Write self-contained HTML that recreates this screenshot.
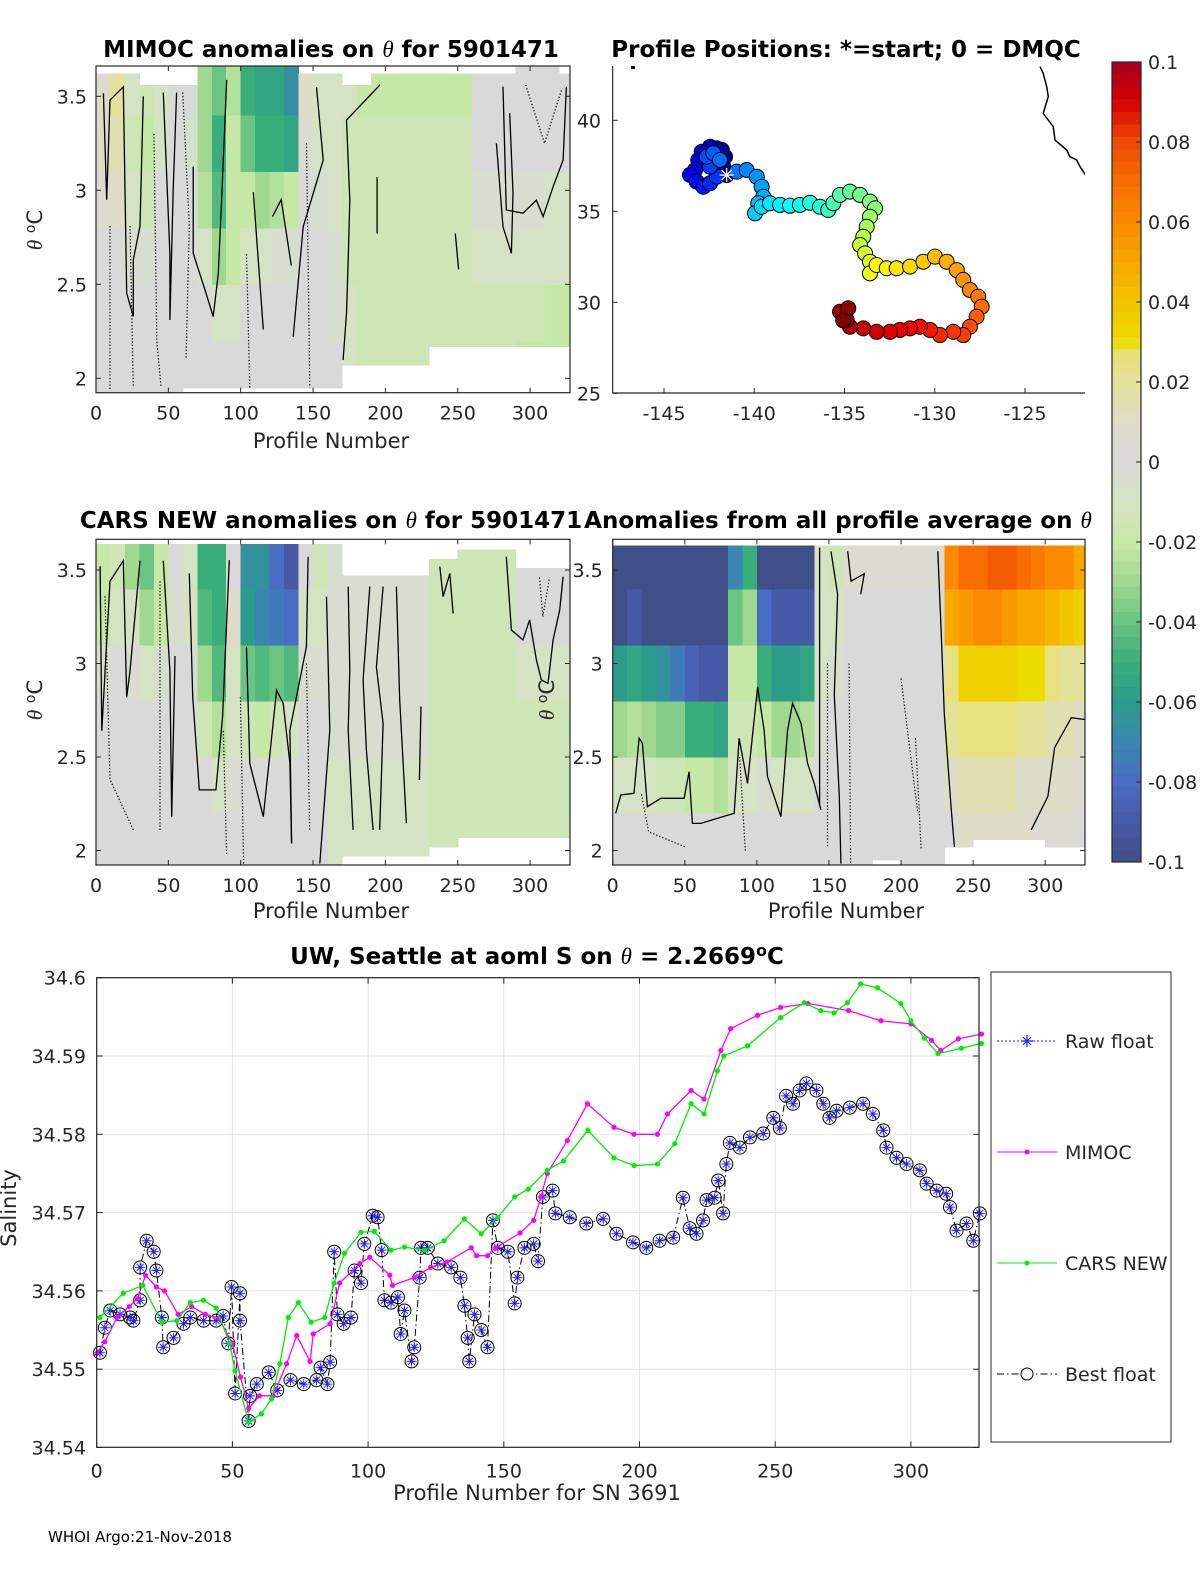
<!DOCTYPE html>
<html><head><meta charset="utf-8"><title>Float 5901471 anomalies and salinity</title>
<style>
html,body{margin:0;padding:0;background:#fff;}
svg{display:block;font-family:"DejaVu Sans","Liberation Sans",sans-serif;}
.tk{font-size:19px;fill:#262626;}
.ttl{font-size:23px;font-weight:bold;fill:#000;}
.lab{font-size:21px;fill:#262626;}
</style></head>
<body>
<svg id="fig" width="1200" height="1575" viewBox="0 0 1200 1575" xmlns="http://www.w3.org/2000/svg">
<rect width="1200" height="1575" fill="#fff"/>
<g id="p1"></g>
<g id="p2"></g>
<g id="p3"></g>
<g id="p4"></g>
<g id="cb"></g>
<g id="p5"></g>

<text class="ttl" x="331" y="57" text-anchor="middle">MIMOC anomalies on <tspan font-family="Liberation Serif,serif" font-style="italic" font-weight="normal">θ</tspan>  for 5901471</text>
<text class="ttl" x="846" y="57" text-anchor="middle">Profile Positions: *=start; 0 = DMQC</text>
<text class="ttl" x="331" y="528" text-anchor="middle">CARS NEW anomalies on <tspan font-family="Liberation Serif,serif" font-style="italic" font-weight="normal">θ</tspan> for 5901471</text>
<text class="ttl" x="838" y="528" text-anchor="middle">Anomalies from all profile average on <tspan font-family="Liberation Serif,serif" font-style="italic" font-weight="normal">θ</tspan></text>
<text class="ttl" x="537" y="964" text-anchor="middle">UW, Seattle at aoml S on <tspan font-family="Liberation Serif,serif" font-style="italic" font-weight="normal">θ</tspan> = 2.2669<tspan dy="-8" font-size="16">o</tspan><tspan dy="8">C</tspan></text>

<text class="lab" x="331" y="448" text-anchor="middle">Profile Number</text>
<text class="lab" x="331" y="918" text-anchor="middle">Profile Number</text>
<text class="lab" x="846" y="918" text-anchor="middle">Profile Number</text>
<text class="lab" x="537" y="1500" text-anchor="middle">Profile Number for SN 3691</text>
<text class="lab" transform="translate(42,230) rotate(-90)" text-anchor="middle"><tspan font-family="Liberation Serif,serif" font-style="italic">θ</tspan> <tspan dy="-7" font-size="14">o</tspan><tspan dy="7">C</tspan></text>
<text class="lab" transform="translate(42,700) rotate(-90)" text-anchor="middle"><tspan font-family="Liberation Serif,serif" font-style="italic">θ</tspan> <tspan dy="-7" font-size="14">o</tspan><tspan dy="7">C</tspan></text>
<text class="lab" transform="translate(554,700) rotate(-90)" text-anchor="middle"><tspan font-family="Liberation Serif,serif" font-style="italic">θ</tspan> <tspan dy="-7" font-size="14">o</tspan><tspan dy="7">C</tspan></text>
<text class="lab" transform="translate(16,1208) rotate(-90)" text-anchor="middle">Salinity</text>
<text x="48" y="1542" font-size="15" fill="#000">WHOI Argo:21-Nov-2018</text>
</svg>

<script>
// ---------- DATA ----------
const binStarts = [0,10,20,30,40,50,60,70,80,90,100,110,120,130,140,150,160,170,180,190,200,210,220,230,240,250,260,270,280,290,300,310,320];
const thetaEdges = [1.92,2.2,2.5,2.8,3.1,3.4,3.67];
const mimocVals = [
[0,0,0,0.005,0.01,0.01],[0,0,0,0.01,0.015,0.02],[0,0,-0.005,-0.01,-0.015,-0.01],[0,0,-0.005,-0.015,-0.02,-0.015],
[0,0,0,0,-0.01,-0.01],[0,0,0,0,0,0],[0,0,0,0,-0.005,0],[0,0,-0.01,-0.025,-0.03,-0.03],
[0,-0.01,-0.03,-0.045,-0.05,-0.04],[0,-0.01,-0.02,-0.02,-0.02,-0.025],[0,0,-0.01,-0.02,-0.04,-0.05],[0,0,-0.01,-0.03,-0.05,-0.055],
[0,0,-0.005,-0.025,-0.05,-0.055],[0,0,-0.005,-0.02,-0.055,-0.065],[0,0,0,0,0.005,0.01],[0,0,0,-0.005,-0.01,-0.01],
[0,-0.005,-0.005,-0.01,-0.01,-0.01],[-0.01,-0.01,-0.015,-0.015,-0.015,-0.01],
[-0.015,-0.015,-0.015,-0.015,-0.015,-0.02],[-0.015,-0.015,-0.015,-0.015,-0.015,-0.02],[-0.015,-0.015,-0.015,-0.015,-0.015,-0.02],
[-0.015,-0.015,-0.015,-0.015,-0.015,-0.02],[-0.015,-0.015,-0.015,-0.015,-0.015,-0.02],[-0.015,-0.015,-0.015,-0.015,-0.015,-0.02],
[-0.015,-0.015,-0.015,-0.015,-0.015,-0.02],[-0.015,-0.015,-0.015,-0.015,-0.015,-0.02],
[-0.015,-0.015,-0.01,-0.005,0,0],[-0.015,-0.015,-0.01,-0.005,0,0],[-0.015,-0.015,-0.01,-0.005,0,0],
[-0.02,-0.015,-0.01,-0.005,0,0],[-0.02,-0.015,-0.01,-0.005,0,0],[-0.02,-0.02,-0.01,-0.01,0,0],[-0.02,-0.02,-0.01,-0.01,0,0]];
const mimocThMin = [1.92,1.92,1.92,1.92,1.92,1.92,1.95,1.95,1.95,1.95,1.95,1.95,1.95,1.95,1.95,1.95,1.95,2.07,2.07,2.07,2.07,2.07,2.07,2.17,2.17,2.17,2.17,2.17,2.17,2.17,2.17,2.17,2.17];
const mimocThMax = [3.62,3.62,3.62,3.56,3.56,3.56,3.56,3.66,3.66,3.66,3.66,3.66,3.66,3.66,3.62,3.62,3.62,3.56,3.56,3.62,3.62,3.62,3.62,3.62,3.62,3.62,3.62,3.62,3.62,3.66,3.66,3.66,3.62];

const carsVals = [
[0,0,0,-0.005,-0.02,-0.02],[0,0,0,0,-0.01,-0.015],[0,0,0,0.005,-0.01,-0.03],[0,0,0,-0.01,-0.03,-0.04],
[0,0,0,-0.005,-0.02,-0.02],[0,0,0,0,-0.005,0],[0,0,0,0,-0.01,-0.01],[0,0,-0.015,-0.03,-0.045,-0.05],
[0,-0.01,-0.025,-0.045,-0.05,-0.05],[0,-0.005,-0.01,-0.01,0.01,0],[0,0,-0.015,-0.04,-0.06,-0.065],[0,0,-0.02,-0.045,-0.07,-0.065],
[0,0,-0.015,-0.04,-0.075,-0.08],[0,0,-0.01,-0.045,-0.08,-0.09],[0,0,0,-0.005,-0.01,0],[0,0,0,-0.005,-0.01,-0.015],
[-0.01,-0.01,-0.005,-0.005,-0.005,-0.005],[-0.01,-0.01,-0.005,-0.005,-0.005,-0.005],[-0.01,-0.01,-0.005,-0.005,-0.005,-0.005],
[-0.01,-0.01,-0.005,-0.005,-0.005,-0.005],[-0.01,-0.01,-0.005,-0.005,-0.005,-0.005],[-0.01,-0.01,-0.005,-0.005,-0.005,-0.005],
[-0.01,-0.01,-0.005,-0.005,-0.005,-0.005],
[-0.015,-0.015,-0.015,-0.015,-0.015,-0.015],[-0.015,-0.015,-0.015,-0.015,-0.015,-0.015],[-0.015,-0.015,-0.015,-0.015,-0.015,-0.015],
[-0.015,-0.015,-0.015,-0.015,-0.015,-0.015],[-0.015,-0.015,-0.015,-0.015,-0.015,-0.015],[-0.015,-0.015,-0.015,-0.015,-0.015,-0.015],
[-0.015,-0.015,-0.015,-0.01,0,0],[-0.015,-0.015,-0.015,-0.01,0,0],[-0.015,-0.015,-0.015,-0.01,0,0],[-0.015,-0.015,-0.015,-0.01,0,0]];
const carsThMin = [1.92,1.92,1.92,1.92,1.92,1.92,1.92,1.92,1.92,1.92,1.92,1.92,1.92,1.92,1.92,1.92,1.92,1.97,1.97,1.97,1.97,1.97,1.97,2.02,2.02,2.07,2.07,2.07,2.07,2.07,2.07,2.07,2.07];
const carsThMax = [3.64,3.64,3.64,3.64,3.64,3.64,3.64,3.64,3.64,3.64,3.64,3.64,3.64,3.64,3.64,3.64,3.64,3.47,3.47,3.47,3.47,3.47,3.47,3.56,3.56,3.61,3.61,3.61,3.61,3.51,3.51,3.51,3.51];

const avgVals = [
[0,-0.01,-0.03,-0.06,-0.1,-0.1],[0,-0.01,-0.025,-0.055,-0.09,-0.1],[0,-0.01,-0.03,-0.06,-0.1,-0.1],[0,-0.015,-0.035,-0.065,-0.1,-0.1],
[0,-0.015,-0.035,-0.075,-0.1,-0.1],[0,-0.02,-0.05,-0.085,-0.1,-0.1],[0,-0.02,-0.05,-0.09,-0.1,-0.1],[0,-0.025,-0.055,-0.09,-0.1,-0.1],
[0,-0.01,-0.015,-0.02,-0.04,-0.07],[0,-0.01,-0.015,-0.02,-0.03,-0.05],[0,-0.005,-0.02,-0.05,-0.08,-0.1],[0,-0.01,-0.03,-0.06,-0.09,-0.1],
[0,-0.01,-0.03,-0.06,-0.09,-0.1],[0,-0.01,-0.025,-0.055,-0.09,-0.1],[0,0,-0.005,-0.01,-0.01,-0.01],[0,0,0,-0.005,-0.01,-0.015],
[0,0,0,0,0,0.005],[0,0,0,0,0,0.005],[0,0,0,0,0,0.005],[0,0,0,0,0,0.005],[0,0,0,0,0,0.005],[0,0,0,0,0,0.005],[0,0,0,0,0,0.005],
[0,0.01,0.02,0.025,0.05,0.06],[0.01,0.015,0.025,0.035,0.055,0.07],[0.01,0.015,0.025,0.035,0.06,0.07],[0.01,0.015,0.025,0.035,0.06,0.075],
[0.01,0.015,0.025,0.035,0.055,0.075],[0.01,0.01,0.02,0.03,0.05,0.07],[0.005,0.01,0.02,0.03,0.05,0.065],[0.005,0.01,0.015,0.025,0.045,0.06],
[0.005,0.01,0.015,0.02,0.04,0.06],[0,0.005,0.01,0.02,0.035,0.05]];
const avgThMin = [1.92,1.92,1.92,1.92,1.92,1.92,1.92,1.92,1.92,1.92,1.92,1.92,1.92,1.92,1.92,1.92,1.92,1.92,1.95,1.95,1.92,1.92,1.92,2.02,2.02,2.06,2.06,2.06,2.06,2.06,2.02,2.02,2.02];
const avgThMax = [3.63,3.63,3.63,3.63,3.63,3.63,3.63,3.63,3.63,3.63,3.63,3.63,3.63,3.63,3.63,3.63,3.63,3.63,3.63,3.63,3.63,3.63,3.63,3.63,3.63,3.63,3.63,3.63,3.63,3.63,3.63,3.63,3.63];

// contours: [profile, theta] pairs
const mimocSolid = [
[[281.3,3.551],[283.6,2.895],[295.1,2.878],[304.4,2.948],[309,2.86],[315.9,3.019],[322.8,3.161],[325.1,3.551]],
[[276.7,3.25],[281.3,2.806],[287.1,2.665],[288.2,2.984],[285.9,3.41]],
[[196.2,3.56],[173.1,3.374],[175.4,2.948],[174.3,2.629],[173.1,2.346],[170.8,2.097]],
[[152.4,3.55],[157,3.161],[143.2,2.806],[136.3,2.221]],
[[108.7,2.99],[115.6,2.26]],
[[67.2,3.126],[67.2,2.665],[75.3,2.47],[81,2.328],[84.5,2.558],[86.8,2.948],[90.3,3.587]],
[[5.1,3.516],[7.4,2.95],[9.7,3.48],[18.9,3.55],[21.2,2.452],[25.8,2.33],[25.8,2.63],[30.4,2.81],[32.7,3.5]],
[[46.5,3.52],[51.1,2.66],[51.1,2.31],[53.4,3.02],[55.7,3.52]],
[[248.3,2.77],[250.6,2.58]],[[194.3,3.07],[194.3,2.77]],[[122,2.86],[128,2.95],[135,2.6]]];
const mimocDotted = [
[[59.9,3.52],[64.5,2.81],[62.2,2.1]],[[104,2.66],[106.3,1.95]],[[145.5,3.25],[147.8,1.95]],
[[9.7,2.81],[9.7,1.94]],[[23.5,2.81],[25.8,1.95]],[[297,3.56],[310,3.25],[322,3.54]],[[40,3.3],[42,2.2],[45,1.95]]];
const carsSolid = [
[[283.6,3.571],[287.1,3.179],[295.1,3.126],[299.7,3.233],[304.4,3.019],[307.8,2.912],[312.4,2.894],[315.9,3.126],[320.5,3.286],[322.8,3.464]],
[[237.6,3.518],[239.9,3.357],[244.5,3.482],[246.8,3.268]],
[[174.3,3.411],[175.4,2.965],[174.3,2.644],[177.7,2.11]],
[[189.2,3.411],[184.6,2.912],[186.9,2.537],[191.5,2.11]],
[[198.4,3.411],[193.8,2.98],[198.4,2.68],[196.1,2.11]],
[[207.6,3.411],[209.9,2.805],[214.5,2.146]],[[224.6,2.77],[223.5,2.377]],
[[146.6,3.571],[145.4,3.09],[134,2.644],[135.2,2.038]],
[[159.3,3.357],[161.6,2.644],[154.7,1.93]],
[[104,3.09],[106.3,2.466],[115.6,2.181],[124.8,2.858],[129.4,2.787],[134,2.466],[135.2,2.038]],
[[64.5,3.482],[66.8,2.823],[71.4,2.324],[82.9,2.324],[87.5,2.716],[92.1,3.553]],
[[2.8,3.52],[4,2.64],[9.7,3.44],[18.9,3.55],[21.2,2.82],[23.5,2.96],[30.4,3.55]],
[[46.5,3.55],[51.1,2.96],[52.3,2.18],[54.6,3.04]]];
const carsDotted = [
[[6.2,3.36],[9.7,2.38],[25.8,2.11]],[[44.2,3.44],[44.2,2.1]],[[88,2.64],[90.3,1.97]],[[99.8,2.82],[102,1.93]],
[[145.4,3.0],[147.7,2.11]],[[306.5,3.46],[308.8,3.25],[313.4,3.46]]];
const avgSolid = [
[[2.1,2.199],[5.6,2.297],[14.8,2.306],[18.3,2.6],[20.6,2.573],[24.1,2.234],[33.3,2.279],[49.5,2.279],[53,2.421],[55.3,2.145],[61.1,2.145],[84.3,2.199],[87.7,2.6],[93.5,2.359],[100.5,2.876],[105,2.644],[107.4,2.395],[116.7,2.181],[121.3,2.644],[124.8,2.787],[130.6,2.68],[135.2,2.466],[139.8,2.359],[144.4,2.217]],
[[151.4,3.6],[156,3.37],[153.7,2.83],[157.2,2.29],[158.3,1.93]],
[[225.5,3.6],[227.8,3.18],[230,2.73],[234.7,2.23],[237,2.02]],
[[290.3,2.11],[301.9,2.29],[306.5,2.55],[318.1,2.71],[328,2.7]],
[[163,3.6],[165.3,3.44],[174.5,3.48],[172,3.37]],[[143.5,3.62],[143.5,2.25]]];
const avgDotted = [
[[149,3.0],[149,2.02]],[[200,2.92],[211.6,2.2]],[[164,3.0],[165,1.92]],[[210,2.6],[214,2.0]],
[[20,2.3],[25,2.1],[50,2.02]],[[88,2.5],[92,2.0]]];

// map
const trackLon = [-141.53,-141.71,-141.62,-141.8,-142.08,-142.45,-142.91,-143.1,-143.28,-143.56,-143.19,-142.82,-142.45,-142.08,-142.45,-142.63,-142.27,-141.9,
-140.97,-140.42,-139.86,-139.59,-139.5,-139.78,-139.96,-139.59,-139.13,-138.57,-138.02,-137.47,-136.91,-136.36,-135.9,-135.62,-135.25,-134.7,-134.14,-133.59,-133.31,
-133.59,-133.77,-133.96,-134.14,-133.86,-133.59,-133.59,-133.22,-132.66,-132.11,-131.37,-130.63,-129.99,-129.34,-128.78,-128.42,-128.05,-127.59,-127.4,-127.68,
-128.05,-128.42,-128.97,-129.71,-130.26,-130.82,-131.37,-131.93,-132.48,-133.22,-133.96,-134.7,-134.88,-135.25,-134.79,-135.07];
const trackLat = [36.99,37.45,38.0,38.37,38.46,38.55,38.27,37.82,37.27,37.0,36.63,36.35,36.54,36.9,37.45,38.0,38.19,37.82,
37.18,37.27,36.9,36.35,35.8,35.44,34.89,35.25,35.44,35.35,35.31,35.35,35.47,35.25,35.07,35.44,35.9,36.08,35.9,35.53,35.16,
34.7,34.15,33.6,33.15,32.69,32.23,31.59,32.05,31.87,31.87,31.96,32.23,32.51,32.23,31.77,31.23,30.68,30.31,29.76,29.21,
28.66,28.2,28.38,28.2,28.48,28.66,28.57,28.48,28.38,28.38,28.57,28.66,29.03,29.48,29.67,29.0];
const coastLon = [-124.17,-123.99,-123.8,-123.71,-123.99,-123.43,-123.34,-122.69,-122.51,-122.14,-121.95,-121.58];
const coastLat = [42.95,42.58,41.85,41.3,40.38,39.65,38.91,38.37,38.0,37.82,37.45,36.9];
const mapXTicks = [-145,-140,-135,-130,-125];
const mapYTicks = [25,30,35,40];

// colorbar
const cbTicks = [0.1,0.08,0.06,0.04,0.02,0,-0.02,-0.04,-0.06,-0.08,-0.1];
const cbLabels = ['0.1','0.08','0.06','0.04','0.02','0','-0.02','-0.04','-0.06','-0.08','-0.1'];

// heat panel ticks
const profTicks = [0,50,100,150,200,250,300];
const thetaTicks = [2,2.5,3,3.5];
const thetaTickLabels = ['2','2.5','3','3.5'];

// salinity chart
const salXTicks = [0,50,100,150,200,250,300];
const salYTicks = [34.54,34.55,34.56,34.57,34.58,34.59,34.6];
const mimocP = [0,3,7.5,12,15,18,22,25,30,35,40,45,50,53,56,60,65,70,73.7,78.6,79.8,86,89.5,97,100.6,108,109,117,123,129,138,140,144,147,156,161,163.7,166,173.4,180.8,190.6,198,206.6,210.3,219,223.8,230,233.6,243.5,252,262,277,289,300,307.6,311,317.5,326];
const mimocS = [34.552,34.5535,34.5566,34.558,34.559,34.562,34.5605,34.560,34.557,34.558,34.557,34.5565,34.5533,34.549,34.545,34.5466,34.5466,34.5507,34.5543,34.551,34.5545,34.5558,34.561,34.5635,34.5643,34.562,34.5607,34.5617,34.563,34.5637,34.5655,34.5645,34.5645,34.5655,34.5674,34.569,34.572,34.575,34.5792,34.5839,34.5809,34.580,34.580,34.5826,34.5856,34.5845,34.5907,34.5935,34.5952,34.5962,34.5967,34.5958,34.5945,34.5941,34.592,34.5907,34.5922,34.5928];
const carsP = [1.2,9.8,17,24,29.5,34.5,39.4,44,49,51,56,60.7,64.4,67.5,70.6,74.3,79,84,87.5,91.3,97.4,102.3,108.5,113.4,120.8,128,135.5,141.7,147.8,154,159,166,172,181,190.6,198,206.6,213,219,223.8,228.7,231,239.8,252,260.7,266.8,271.7,276.6,281.5,287.7,296.3,300,305,310,318.6,326];
const carsS = [34.5566,34.5597,34.5607,34.556,34.5562,34.5585,34.5588,34.5578,34.5533,34.5498,34.5432,34.5443,34.5462,34.5507,34.5566,34.5585,34.556,34.5566,34.561,34.5648,34.5675,34.5676,34.5652,34.5656,34.5652,34.5664,34.5692,34.5673,34.5694,34.572,34.573,34.5754,34.5766,34.5805,34.577,34.576,34.5762,34.5788,34.5839,34.5826,34.5881,34.59,34.5913,34.5949,34.5968,34.5958,34.5955,34.5968,34.5992,34.5987,34.5967,34.5945,34.5923,34.5903,34.591,34.5916];
const floatP = [1.2,3,5,8.6,12.3,13.5,16,16,18.4,21,22,24,24.5,28.3,32,34.5,39.4,44,46.6,48.5,49.7,51,52.8,52.8,56,56.5,59,63.4,66.5,71.4,76.3,81,82.5,85,86,87.5,88.7,91,93.7,95,97.4,98.6,101.7,103.5,105,106,108.5,111,112,113.4,116,117,119,119.5,122,125.7,130.6,134,135.5,136.7,137.3,139.2,141.7,144,146,147.8,151.5,154,155,157.6,161,162.6,164.4,168,169,174.3,180.4,186.6,191.5,197.6,202.5,207.4,212.4,216,218.5,221,223.4,224.7,227.7,229,230.8,232,233.3,237,240.7,245.6,249.3,251.7,254,256.6,259,261.5,265.2,267.7,270,272.6,277.5,282.4,286,289.8,291,294.7,298.4,303.3,305.8,309.5,313,314.4,316.8,320.5,323,325.4];
const floatS = [34.5521,34.5553,34.5575,34.557,34.5566,34.5562,34.5588,34.563,34.5664,34.565,34.5626,34.5566,34.5528,34.554,34.5558,34.5566,34.5562,34.5562,34.5568,34.5533,34.5605,34.5469,34.5597,34.5562,34.5434,34.5466,34.5481,34.5496,34.5473,34.5486,34.5481,34.5486,34.5502,34.5481,34.5509,34.565,34.557,34.5558,34.5566,34.5626,34.561,34.566,34.5696,34.5694,34.5652,34.5588,34.5585,34.5592,34.5545,34.5575,34.551,34.5528,34.5617,34.5655,34.5655,34.5635,34.563,34.5617,34.5581,34.554,34.551,34.557,34.555,34.5528,34.569,34.5655,34.565,34.5584,34.5617,34.5655,34.566,34.5638,34.572,34.5728,34.5699,34.5694,34.5686,34.5692,34.5673,34.5662,34.5655,34.5664,34.5668,34.5719,34.568,34.5673,34.569,34.5716,34.5719,34.5741,34.5699,34.5762,34.5789,34.5783,34.5796,34.5801,34.5821,34.5808,34.5849,34.5839,34.5856,34.5865,34.5856,34.5839,34.5821,34.583,34.5834,34.5839,34.5826,34.5805,34.5783,34.577,34.5762,34.5754,34.5737,34.5728,34.5724,34.5707,34.5677,34.5686,34.5664,34.5699];

// ---------- HELPERS ----------
const NS = 'http://www.w3.org/2000/svg';
function mk(parent, tag, attrs){ const e=document.createElementNS(NS,tag); for(const k in attrs) e.setAttribute(k,attrs[k]); parent.appendChild(e); return e; }
const cmapStops = [[-0.1,'#3f5089'],[-0.09,'#4659a6'],[-0.08,'#4a6cc4'],[-0.07,'#3a86b0'],[-0.06,'#2c9c8a'],[-0.05,'#3aae7a'],[-0.04,'#6ac482'],[-0.03,'#a0d890'],[-0.02,'#c6e8a6'],[-0.01,'#d6e2c4'],[0,'#d9d9d9'],[0.01,'#dedcc8'],[0.02,'#e4e29a'],[0.028,'#e8e070'],[0.03,'#ecdc00'],[0.04,'#f2c400'],[0.05,'#f8a600'],[0.06,'#fb8a00'],[0.07,'#f86c00'],[0.08,'#ee4a06'],[0.09,'#d60000'],[0.1,'#a50021']];
function hx(c){return [parseInt(c.substr(1,2),16),parseInt(c.substr(3,2),16),parseInt(c.substr(5,2),16)];}
function cmap(v){
  v=Math.max(-0.1,Math.min(0.1,v));
  for(let i=0;i<cmapStops.length-1;i++){
    const a=cmapStops[i],b=cmapStops[i+1];
    if(v>=a[0]&&v<=b[0]){const t=(v-a[0])/(b[0]-a[0]);const ca=hx(a[1]),cb=hx(b[1]);
      return 'rgb('+ca.map((x,j)=>Math.round(x+(cb[j]-x)*t)).join(',')+')';}
  }
  return cmapStops[0][1];
}
function jet(t){
  const r=Math.max(0,Math.min(1,1.5-Math.abs(4*t-3))), g=Math.max(0,Math.min(1,1.5-Math.abs(4*t-2))), b=Math.max(0,Math.min(1,1.5-Math.abs(4*t-1)));
  return 'rgb('+Math.round(r*255)+','+Math.round(g*255)+','+Math.round(b*255)+')';
}
function frame(g,x0,y0,x1,y1,name){
  const r=mk(g,'rect',{x:x0,y:y0,width:x1-x0,height:y1-y0,fill:'none',stroke:'#262626','stroke-width':1.2});
  
  
}

// ---------- HEATMAP PANELS ----------
function heatPanel(gid, px0, px1, top, bottom, th35y, pxPerTheta, vals, thMin, thMax, solid, dotted, labelSide){
  const g=document.getElementById(gid);
  const pmax=327.6;
  const xs=p=>px0+p*(px1-px0)/pmax;
  const ys=t=>th35y+(3.5-t)*pxPerTheta;
  const cells=mk(g,'g',{'shape-rendering':'crispEdges'});
  
  
  for(let i=0;i<binStarts.length;i++){
    const pa=binStarts[i], pb=Math.min(binStarts[i]+10,pmax);
    for(let j=0;j<thetaEdges.length-1;j++){
      const lo=Math.max(thetaEdges[j],thMin[i]), hi=Math.min(thetaEdges[j+1],thMax[i]);
      if(hi<=lo) continue;
      const yt=Math.max(top,ys(hi)), yb=Math.min(bottom,ys(lo));
      const c=mk(cells,'rect',{x:xs(pa),y:yt,width:xs(pb)-xs(pa)+0.6,height:yb-yt+0.6,fill:cmap(vals[i][j])});
      
      
    }
  }
  const draw=(lines,dash,nm)=>{
    lines.forEach(L=>{
      const pl=mk(g,'polyline',{points:L.map(q=>xs(q[0]).toFixed(1)+','+ys(q[1]).toFixed(1)).join(' '),fill:'none',stroke:'#000','stroke-width':dash?1.2:1.3});
      if(dash) pl.setAttribute('stroke-dasharray','1.3 2');
      
      
    });
  };
  draw(solid,false,'contour-line');
  draw(dotted,true,'contour-line-dotted');
  frame(g,px0,top,px1,bottom,'plot-frame');
  profTicks.forEach(p=>{
    const x=xs(p);
    mk(g,'line',{x1:x,y1:bottom,x2:x,y2:bottom-5,stroke:'#262626'});
    mk(g,'line',{x1:x,y1:top,x2:x,y2:top+5,stroke:'#262626'});
    const t=mk(g,'text',{x:x,y:bottom+27,'text-anchor':'middle',class:'tk'}); t.textContent=p;
    
    
  });
  thetaTicks.forEach((th,k)=>{
    const y=ys(th);
    mk(g,'line',{x1:px0,y1:y,x2:px0+5,y2:y,stroke:'#262626'});
    mk(g,'line',{x1:px1,y1:y,x2:px1-5,y2:y,stroke:'#262626'});
    const t=mk(g,'text',{x:px0-(labelSide==='tight'?10:9),y:y+7,'text-anchor':'end',class:'tk'}); t.textContent=thetaTickLabels[k];
    
    
  });
}
heatPanel('p1',96,570,66,392.7,96.3,188,mimocVals,mimocThMin,mimocThMax,mimocSolid,mimocDotted);
heatPanel('p3',96,570,539.3,865,570,187,carsVals,carsThMin,carsThMax,carsSolid,carsDotted);
heatPanel('p4',612.7,1085,539.3,865,570,187,avgVals,avgThMin,avgThMax,avgSolid,avgDotted,'tight');

// ---------- MAP ----------
(function(){
  const g=document.getElementById('p2');
  const mx=lon=>664+(lon+145)*18.05, my=lat=>120.3+(40-lat)*18.2;
  mk(g,'clipPath',{id:'mapclip'}).appendChild(document.createElementNS(NS,'rect'));
  const cr=g.querySelector('#mapclip rect'); cr.setAttribute('x',612.7);cr.setAttribute('y',66);cr.setAttribute('width',472.3);cr.setAttribute('height',327);
  const coast=mk(g,'polyline',{points:coastLon.map((l,i)=>mx(l).toFixed(1)+','+my(coastLat[i]).toFixed(1)).join(' '),fill:'none',stroke:'#000','stroke-width':1.5,'clip-path':'url(#mapclip)'});
  
  
  mk(g,'rect',{x:631,y:66,width:4,height:3,fill:'#000'});
  const n=trackLon.length;
  for(let i=0;i<n;i++){
    const c=mk(g,'circle',{cx:mx(trackLon[i]),cy:my(trackLat[i]),r:7.5,fill:jet(i/(n-1)),stroke:'#000','stroke-width':1});
    
    
  }
  const sx=mx(trackLon[0]), sy=my(trackLat[0]);
  const star=mk(g,'g',{stroke:'#fff','stroke-width':1.3});
  
  
  [[0,-7],[7,0],[5,5],[5,-5]].forEach(d=>mk(star,'line',{x1:sx-d[0],y1:sy-d[1],x2:sx+d[0],y2:sy+d[1]}));
  mk(g,'line',{x1:612.7,y1:66,x2:612.7,y2:393,stroke:'#262626','stroke-width':1.2});
  mk(g,'line',{x1:612.7,y1:393,x2:1085,y2:393,stroke:'#262626','stroke-width':1.2});
  mapXTicks.forEach(v=>{const x=mx(v); mk(g,'line',{x1:x,y1:393,x2:x,y2:388,stroke:'#262626'});
    const t=mk(g,'text',{x:x,y:420,'text-anchor':'middle',class:'tk'}); t.textContent=v;
    
    });
  mapYTicks.forEach(v=>{const y=my(v); mk(g,'line',{x1:612.7,y1:y,x2:617.7,y2:y,stroke:'#262626'});
    const t=mk(g,'text',{x:601,y:y+7,'text-anchor':'end',class:'tk'}); t.textContent=v;
    
    });
})();

// ---------- COLORBAR ----------
(function(){
  const g=document.getElementById('cb');
  const y0=62,y1=862,x0=1112,x1=1141;
  const cy=v=>y0+(0.1-v)*(y1-y0)/0.2;
  const N=64;
  for(let k=0;k<N;k++){
    const va=0.1-k*0.2/N, vb=va-0.2/N;
    const r=mk(g,'rect',{x:x0,y:cy(va),width:x1-x0,height:cy(vb)-cy(va)+0.5,fill:cmap((va+vb)/2),'shape-rendering':'crispEdges'});
    
    
  }
  mk(g,'rect',{x:x0,y:y0,width:x1-x0,height:y1-y0,fill:'none',stroke:'#262626','stroke-width':1.2});
  cbTicks.forEach((v,k)=>{const y=cy(v);
    mk(g,'line',{x1:x1,y1:y,x2:x1-5,y2:y,stroke:'#262626'});
    const t=mk(g,'text',{x:1148,y:y+7,class:'tk','font-size':'18px'}); t.textContent=cbLabels[k];
    
    });
})();

// ---------- SALINITY CHART ----------
(function(){
  const g=document.getElementById('p5');
  const X0=96.7,X1=979,Y0=977.7,Y1=1447.3;
  const sx=p=>X0+p*2.714, sy=s=>Y0+(34.6-s)*7830;
  salXTicks.forEach(p=>{const x=sx(p);
    mk(g,'line',{x1:x,y1:Y0,x2:x,y2:Y1,stroke:'#e3e3e3','stroke-width':1});
    mk(g,'line',{x1:x,y1:Y1,x2:x,y2:Y1-6,stroke:'#262626'});
    mk(g,'line',{x1:x,y1:Y0,x2:x,y2:Y0+6,stroke:'#262626'});
    const t=mk(g,'text',{x:x,y:Y1+30,'text-anchor':'middle',class:'tk','font-size':'20px'}); t.textContent=p;
    
    });
  salYTicks.forEach(s=>{const y=sy(s);
    mk(g,'line',{x1:X0,y1:y,x2:X1,y2:y,stroke:'#e3e3e3','stroke-width':1});
    mk(g,'line',{x1:X0,y1:y,x2:X0+6,y2:y,stroke:'#262626'});
    mk(g,'line',{x1:X1,y1:y,x2:X1-6,y2:y,stroke:'#262626'});
    const t=mk(g,'text',{x:86,y:y+7,'text-anchor':'end',class:'tk','font-size':'20px'}); t.textContent=(Math.round(s*100)/100).toString();
    
    });
  const line=(P,S,color,nm,dash,w)=>{
    const pl=mk(g,'polyline',{points:P.map((p,i)=>sx(p).toFixed(1)+','+sy(S[i]).toFixed(1)).join(' '),fill:'none',stroke:color,'stroke-width':w});
    if(dash) pl.setAttribute('stroke-dasharray',dash);
    
    
  };
  line(floatP,floatS,'#000','best-float-line','7 3 1.5 3',1);
  for(let i=0;i<floatP.length;i++){
    const x=sx(floatP[i]), y=sy(floatS[i]);
    const m=mk(g,'g',{});
    
    
    mk(m,'circle',{cx:x,cy:y,r:6.5,fill:'none',stroke:'#000','stroke-width':1});
    mk(m,'path',{d:`M${x-5},${y}H${x+5}M${x},${y-5}V${y+5}M${x-3.5},${y-3.5}L${x+3.5},${y+3.5}M${x-3.5},${y+3.5}L${x+3.5},${y-3.5}`,stroke:'#1f1fff','stroke-width':1});
  }
  line(mimocP,mimocS,'#ff00ff','mimoc-line',null,1.3);
  mimocP.forEach((p,i)=>{const c=mk(g,'circle',{cx:sx(p),cy:sy(mimocS[i]),r:2.6,fill:'#ff00ff'});
    
    });
  line(carsP,carsS,'#00ee00','cars-new-line',null,1.3);
  carsP.forEach((p,i)=>{const c=mk(g,'circle',{cx:sx(p),cy:sy(carsS[i]),r:2.6,fill:'#00ee00'});
    
    });
  frame(g,X0,Y0,X1,Y1,'plot-frame');
  const lg=mk(g,'g',{});
  
  
  mk(lg,'rect',{x:991,y:972,width:180,height:470,fill:'#fff',stroke:'#262626','stroke-width':1});
  const entries=[['Raw float',1041,'#1f1fff','2 2','star'],['MIMOC',1152,'#ff00ff',null,'dot'],['CARS NEW',1263,'#00ee00',null,'dot'],['Best float',1374,'#000','7 3 1.5 3','circle']];
  entries.forEach(e=>{
    const eg=mk(lg,'g',{});
    
    
    const ln=mk(eg,'line',{x1:997,y1:e[1],x2:1057,y2:e[1],stroke:e[2],'stroke-width':1});
    if(e[3]) ln.setAttribute('stroke-dasharray',e[3]);
    const cx=1027, cy=e[1];
    if(e[4]==='star') mk(eg,'path',{d:`M${cx-6},${cy}H${cx+6}M${cx},${cy-6}V${cy+6}M${cx-4},${cy-4}L${cx+4},${cy+4}M${cx-4},${cy+4}L${cx+4},${cy-4}`,stroke:e[2],'stroke-width':1.2});
    if(e[4]==='dot') mk(eg,'circle',{cx:cx,cy:cy,r:2.5,fill:e[2]});
    if(e[4]==='circle') mk(eg,'circle',{cx:cx,cy:cy,r:6,fill:'#fff',stroke:'#000'});
    const t=mk(eg,'text',{x:1065,y:cy+7,class:'tk','font-size':'19px',fill:'#000'}); t.textContent=e[0];
  });
})();
</script>
</body></html>
